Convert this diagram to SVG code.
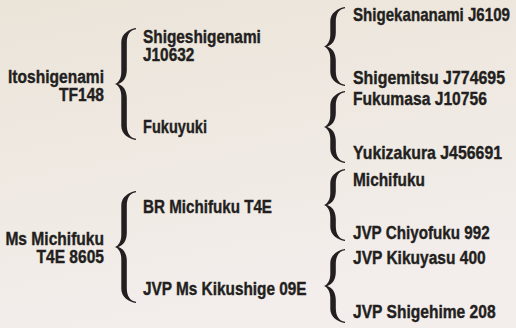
<svg xmlns="http://www.w3.org/2000/svg" width="516" height="328" viewBox="0 0 516 328">
<defs>
<linearGradient id="bg" x1="0" y1="0" x2="0.3" y2="1">
<stop offset="0" stop-color="#ebe4d9"/>
<stop offset="0.5" stop-color="#efe9e2"/>
<stop offset="1" stop-color="#f3eeec"/>
</linearGradient>
<style>
text{font-family:"Liberation Sans",Arial,sans-serif;font-weight:bold;font-size:19px;fill:#231f20;stroke:#231f20;stroke-width:0.4px;}
.r{text-anchor:end;}
.brace{fill:#231f20;}
</style>
</defs>
<rect width="516" height="328" fill="url(#bg)"/>
<g id="connectors">
<path class="brace" transform="translate(115,84)" d="M21,-56 C14,-55 6.3,-50 6.3,-42 L6.3,-12 C6.3,-5 3,-1 0,0 C3,1 6.3,5 6.3,12 L6.3,42 C6.3,50 14,55 21,56 L21,54.7 C15,54 11.8,49 11.8,41 L11.8,14 C11.8,6 8,1.5 3.2,0 C8,-1.5 11.8,-6 11.8,-14 L11.8,-41 C11.8,-49 15,-54 21,-54.7 Z"/>
<path class="brace" transform="translate(115,247)" d="M21,-56 C14,-55 6.3,-50 6.3,-42 L6.3,-12 C6.3,-5 3,-1 0,0 C3,1 6.3,5 6.3,12 L6.3,42 C6.3,50 14,55 21,56 L21,54.7 C15,54 11.8,49 11.8,41 L11.8,14 C11.8,6 8,1.5 3.2,0 C8,-1.5 11.8,-6 11.8,-14 L11.8,-41 C11.8,-49 15,-54 21,-54.7 Z"/>
<path class="brace" transform="translate(324,46.5)" d="M21,-39.5 C14,-38.5 6.3,-33.5 6.3,-25.5 L6.3,-12 C6.3,-5 3,-1 0,0 C3,1 6.3,5 6.3,12 L6.3,25.5 C6.3,33.5 14,38.5 21,39.5 L21,38.2 C15,37.5 11.8,32.5 11.8,24.5 L11.8,14 C11.8,6 8,1.5 3.2,0 C8,-1.5 11.8,-6 11.8,-14 L11.8,-24.5 C11.8,-32.5 15,-37.5 21,-38.2 Z"/>
<path class="brace" transform="translate(324,127)" d="M21,-36 C14,-35 6.3,-30 6.3,-22 L6.3,-12 C6.3,-5 3,-1 0,0 C3,1 6.3,5 6.3,12 L6.3,22 C6.3,30 14,35 21,36 L21,34.7 C15,34 11.8,29 11.8,21 L11.8,14 C11.8,6 8,1.5 3.2,0 C8,-1.5 11.8,-6 11.8,-14 L11.8,-21 C11.8,-29 15,-34 21,-34.7 Z"/>
<path class="brace" transform="translate(324,205)" d="M21,-36 C14,-35 6.3,-30 6.3,-22 L6.3,-12 C6.3,-5 3,-1 0,0 C3,1 6.3,5 6.3,12 L6.3,22 C6.3,30 14,35 21,36 L21,34.7 C15,34 11.8,29 11.8,21 L11.8,14 C11.8,6 8,1.5 3.2,0 C8,-1.5 11.8,-6 11.8,-14 L11.8,-21 C11.8,-29 15,-34 21,-34.7 Z"/>
<path class="brace" transform="translate(324,286)" d="M21,-37 C14,-36 6.3,-31 6.3,-23 L6.3,-12 C6.3,-5 3,-1 0,0 C3,1 6.3,5 6.3,12 L6.3,23 C6.3,31 14,36 21,37 L21,35.7 C15,35 11.8,30 11.8,22 L11.8,14 C11.8,6 8,1.5 3.2,0 C8,-1.5 11.8,-6 11.8,-14 L11.8,-22 C11.8,-30 15,-35 21,-35.7 Z"/>
</g>
<g id="itoshigenami"><text class="r" transform="translate(104,83) scale(0.82,1)"><tspan x="0" y="0">Itoshigenami</tspan><tspan x="0" y="18">TF148</tspan></text></g>
<g id="ms-michifuku"><text class="r" transform="translate(104,245) scale(0.82,1)"><tspan x="0" y="0">Ms Michifuku</tspan><tspan x="0" y="18">T4E 8605</tspan></text></g>
<g id="shigeshigenami"><text transform="translate(143,43) scale(0.81,1)"><tspan x="0" y="0">Shigeshigenami</tspan><tspan x="0" y="18.5">J10632</tspan></text></g>
<g id="fukuyuki"><text transform="translate(143,133) scale(0.767,1)">Fukuyuki</text></g>
<g id="br-michifuku"><text transform="translate(143,212.5) scale(0.799,1)">BR Michifuku T4E</text></g>
<g id="jvp-ms-kikushige"><text transform="translate(143,295) scale(0.809,1)">JVP Ms Kikushige 09E</text></g>
<g id="shigekananami"><text transform="translate(353,21) scale(0.795,1)">Shigekananami J6109</text></g>
<g id="shigemitsu"><text transform="translate(353,84) scale(0.837,1)">Shigemitsu J774695</text></g>
<g id="fukumasa"><text transform="translate(353,105) scale(0.824,1)">Fukumasa J10756</text></g>
<g id="yukizakura"><text transform="translate(353,159) scale(0.835,1)">Yukizakura J456691</text></g>
<g id="michifuku"><text transform="translate(353,186) scale(0.812,1)">Michifuku</text></g>
<g id="jvp-chiyofuku"><text transform="translate(353,239) scale(0.801,1)">JVP Chiyofuku 992</text></g>
<g id="jvp-kikuyasu"><text transform="translate(353,264) scale(0.818,1)">JVP Kikuyasu 400</text></g>
<g id="jvp-shigehime"><text transform="translate(353,318) scale(0.821,1)">JVP Shigehime 208</text></g>
</svg>
